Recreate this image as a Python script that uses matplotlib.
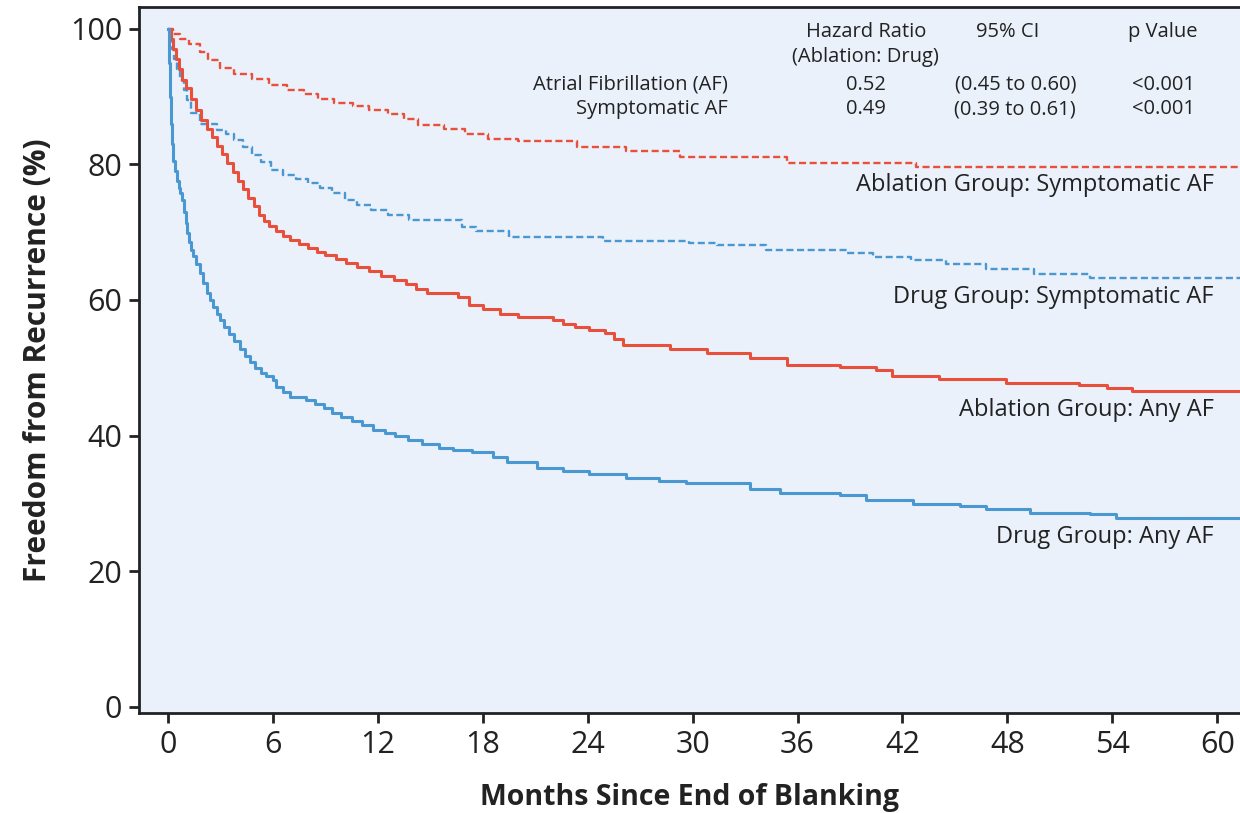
import numpy as np
import matplotlib.pyplot as plt

plt.rcParams['font.family'] = ['Open Sans', 'DejaVu Sans']

RED = '#e8503c'
BLUE = '#4a98d2'
BG = '#eaf1fa'
INK = '#222222'

# ablation group, symptomatic AF (red dashed)
abl_sym_t = [0, 0.3, 0.7, 1.2, 1.8, 2.3, 3.0, 3.8, 4.8, 5.8, 6.8, 7.8, 8.6, 9.5, 10.6, 11.5,
             12.6, 13.5, 14.3, 15.8, 17.0, 18.3, 20.0, 23.4, 26.2, 29.3, 35.4, 42.8]
abl_sym_v = [100, 99.2, 98.5, 97.7, 96.6, 95.4, 94.2, 93.3, 92.6, 91.7, 91.0, 90.4, 89.6, 89.1, 88.6, 88.0,
             87.4, 86.7, 85.8, 85.2, 84.4, 83.8, 83.4, 82.5, 81.9, 81.1, 80.2, 79.6]

# drug group, symptomatic AF (blue dashed)
drug_sym_t = [0, 0.1, 0.2, 0.35, 0.5, 0.7, 0.9, 1.1, 1.3, 1.8, 2.8, 3.3, 3.8, 4.3, 4.8, 5.3, 5.9, 6.6,
              7.3, 8.0, 8.7, 9.4, 10.1, 10.8, 11.6, 12.6, 13.8, 16.8, 17.6, 19.5, 24.9, 29.8, 31.4,
              34.2, 38.8, 40.3, 42.5, 44.5, 46.8, 49.5, 52.7]
drug_sym_v = [100, 98.5, 97, 95.5, 94, 92.5, 91, 89.5, 87.5, 86, 85.1, 84.4, 83.6, 82.6, 81.4, 80.4, 79.2, 78.4,
              77.8, 77.2, 76.5, 75.7, 74.8, 74.0, 73.2, 72.6, 71.8, 70.8, 70.1, 69.3, 68.7, 68.4, 68.1,
              67.4, 67.0, 66.4, 65.9, 65.3, 64.5, 63.8, 63.3]

# ablation group, any AF (red solid)
abl_any_t = [0, 0.15, 0.3, 0.45, 0.6, 0.8, 1.0, 1.3, 1.6, 1.9, 2.2, 2.5, 2.8, 3.1, 3.4, 3.7, 4.0, 4.3,
             4.6, 4.9, 5.2, 5.5, 5.8, 6.2, 6.6, 7.0, 7.5, 8.0, 8.5, 9.0, 9.6, 10.2, 10.8, 11.5, 12.2,
             12.9, 13.6, 14.2, 14.8, 16.6, 17.2, 18.0, 19.0, 20.0, 22.0, 22.6, 23.3, 24.1, 25.0, 25.5,
             26.0, 28.7, 30.8, 33.3, 35.4, 38.4, 40.5, 41.4, 44.1, 47.9, 52.1, 53.7, 55.1]
abl_any_v = [100, 98.5, 97, 95.5, 94, 92.5, 91.2, 89.6, 88, 86.5, 85.2, 84, 82.7, 81.5, 80.2, 78.8, 77.5, 76.4,
             75.0, 73.8, 72.6, 71.6, 70.9, 70.2, 69.5, 68.9, 68.2, 67.6, 67.1, 66.6, 66.0, 65.4, 64.9, 64.2, 63.6,
             63.0, 62.3, 61.6, 61.0, 60.4, 59.3, 58.6, 58.0, 57.5, 57.0, 56.5, 56.0, 55.6, 55.1, 54.3,
             53.4, 52.8, 52.2, 51.5, 50.4, 50.1, 49.7, 48.8, 48.4, 47.8, 47.4, 47.0, 46.6]

# drug group, any AF (blue solid)
drug_any_t = [0, 0.05, 0.1, 0.15, 0.2, 0.3, 0.4, 0.5, 0.6, 0.7, 0.8, 0.9, 1.0, 1.1, 1.2, 1.3, 1.45, 1.6,
              1.8, 2.0, 2.2, 2.4, 2.6, 2.8, 3.0, 3.2, 3.5, 3.8, 4.1, 4.4, 4.7, 5.0, 5.3, 5.6, 6.0, 6.2,
              6.6, 7.0, 7.9, 8.4, 8.9, 9.4, 9.9, 10.5, 11.1, 11.7, 12.4, 13.0, 13.7, 14.5, 15.5, 16.3,
              17.4, 18.6, 19.4, 21.1, 22.6, 24.1, 26.2, 28.1, 29.6, 33.3, 35.0, 38.4, 39.9, 42.6, 45.3,
              46.8, 49.3, 52.7, 54.2]
drug_any_v = [100, 95, 90, 86, 83, 80.5, 79, 77.5, 76.5, 75.8, 74.8, 73, 71.3, 69.9, 68.5, 67.4, 66.5, 65.3,
              64, 62.5, 61, 60, 59, 58, 57.1, 56, 55, 54, 52.8, 51.8, 50.8, 50, 49.3, 48.8, 48.2, 47.2,
              46.5, 45.7, 45.3, 44.6, 44, 43.4, 42.8, 42.2, 41.6, 40.9, 40.4, 39.9, 39.4, 38.8, 38.2, 37.9,
              37.6, 36.9, 36.1, 35.2, 34.8, 34.4, 33.8, 33.3, 33.0, 32.2, 31.6, 31.3, 30.5, 29.9, 29.6,
              29.2, 28.6, 28.4, 27.9]

curve_labels = ['Ablation Group: Symptomatic AF', 'Drug Group: Symptomatic AF',
                'Ablation Group: Any AF', 'Drug Group: Any AF']
label_y = [77.0, 60.5, 43.8, 25.1]

row_names = ['Atrial Fibrillation (AF)', 'Symptomatic AF']
hazard = ['0.52', '0.49']
ci = ['(0.45 to 0.60)', '(0.39 to 0.61)']
pval = ['<0.001', '<0.001']

xticks = np.arange(0, 61, 6)
yticks = np.arange(0, 101, 20)
X_END = 61.3

fig = plt.figure(figsize=(12.4, 8.13), dpi=100)
ax = fig.add_axes([0.1121, 0.123, 0.8879, 0.8684])
ax.set_facecolor(BG)

curves = [
    (abl_sym_t, abl_sym_v, RED, (0, (3.0, 1.5)), 1.7),
    (drug_sym_t, drug_sym_v, BLUE, (0, (3.0, 1.5)), 1.7),
    (abl_any_t, abl_any_v, RED, '-', 2.2),
    (drug_any_t, drug_any_v, BLUE, '-', 2.2),
]
for t, v, c, ls, lw in curves:
    tt = np.append(t, X_END + 1)
    vv = np.append(v, v[-1])
    ax.plot(tt, vv, drawstyle='steps-post', color=c, linestyle=ls, linewidth=lw)

for lab, y in zip(curve_labels, label_y):
    ax.text(59.8, y, lab, ha='right', va='center', fontsize=17, color=INK)

# hazard ratio table
fs = 14.5
ax.text(39.9, 99.5, 'Hazard Ratio', ha='center', va='center', fontsize=fs, color=INK)
ax.text(39.9, 95.8, '(Ablation: Drug)', ha='center', va='center', fontsize=fs, color=INK)
ax.text(48.0, 99.5, '95% CI', ha='center', va='center', fontsize=fs, color=INK)
ax.text(56.9, 99.5, 'p Value', ha='center', va='center', fontsize=fs, color=INK)
for i, row in enumerate(row_names):
    y = 91.7 - i * 3.55
    ax.text(32.0, y, row, ha='right', va='center', fontsize=fs, color=INK)
    ax.text(39.9, y, hazard[i], ha='center', va='center', fontsize=fs, color=INK)
    ax.text(48.45, y, ci[i], ha='center', va='center', fontsize=fs, color=INK)
    ax.text(56.9, y, pval[i], ha='center', va='center', fontsize=fs, color=INK)

ax.set_xlim(-1.66, X_END)
ax.set_ylim(-0.9, 103.2)
ax.set_xticks(xticks)
ax.set_yticks(yticks)
ax.tick_params(axis='both', direction='out', length=7, width=2, labelsize=22,
               labelcolor=INK, color=INK, pad=5)
for side in ['left', 'bottom', 'top']:
    ax.spines[side].set_linewidth(2)
    ax.spines[side].set_color(INK)
ax.spines['right'].set_visible(False)

ax.set_xlabel('Months Since End of Blanking', fontsize=20.5, fontweight='bold', color=INK, labelpad=17)
ax.set_ylabel('Freedom from Recurrence (%)', fontsize=21.5, fontweight='bold', color=INK, labelpad=12)

fig.savefig('out.png', dpi=100)
